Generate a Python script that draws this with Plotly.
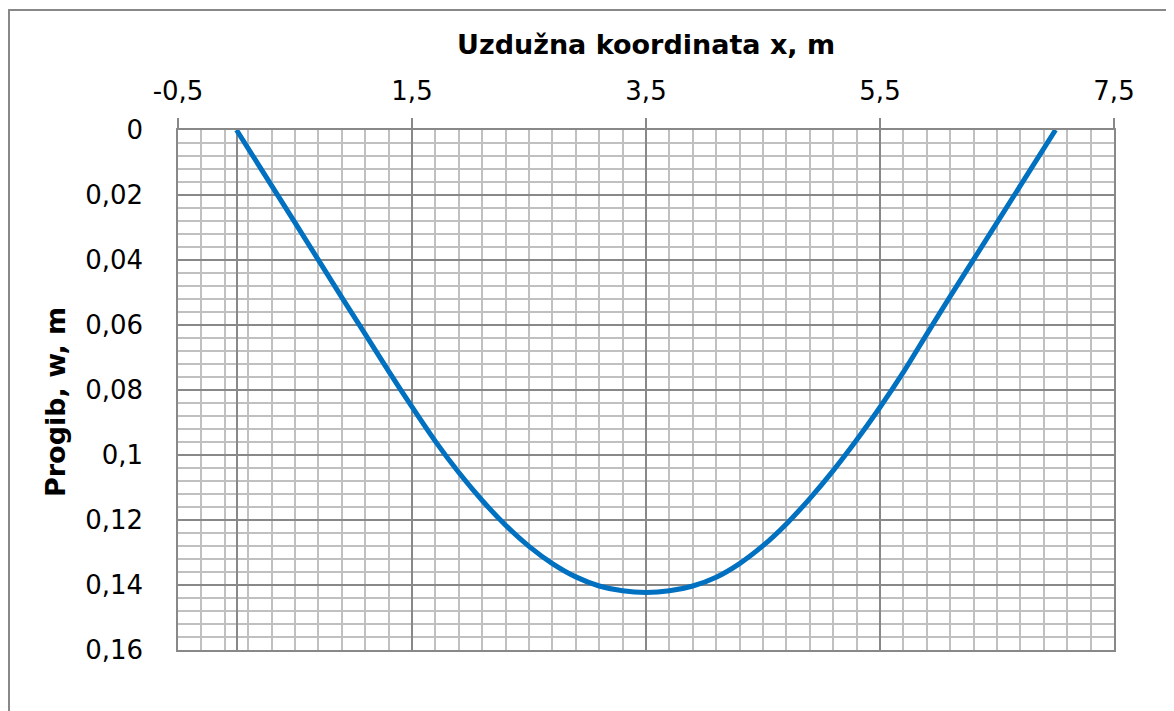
import plotly.graph_objects as go

# Data
X_VALUES = [0.0, 0.5, 0.9, 1.1, 1.3, 1.5, 1.7, 1.9, 2.1, 2.3, 2.5, 2.7, 2.9, 3.1, 3.3, 3.5,
            3.7, 3.9, 4.1, 4.3, 4.5, 4.7, 4.9, 5.1, 5.3, 5.5, 5.7, 5.9, 6.1, 6.5, 7.0]
W_VALUES = [0.0, 0.0285, 0.0515, 0.0628, 0.0742, 0.0852, 0.0958, 0.1054, 0.1140, 0.1216,
            0.1281, 0.1334, 0.1375, 0.1403, 0.1418, 0.1423,
            0.1418, 0.1403, 0.1376, 0.1334, 0.1279, 0.1212, 0.1134, 0.1048, 0.0954, 0.0853,
            0.0745, 0.0628, 0.0512, 0.0285, 0.0]

X_TICK_VALS = [-0.5, 1.5, 3.5, 5.5, 7.5]
X_TICK_TEXT = ["-0,5", "1,5", "3,5", "5,5", "7,5"]
Y_TICK_VALS = [0, 0.02, 0.04, 0.06, 0.08, 0.10, 0.12, 0.14, 0.16]
Y_TICK_TEXT = ["0", "0,02", "0,04", "0,06", "0,08", "0,1", "0,12", "0,14", "0,16"]

X_TITLE = "Uzdužna koordinata x, m"
Y_TITLE = "Progib, w, m"

MAJOR = "#888888"
MINOR = "#c0c0c0"
FONT = "DejaVu Sans"

fig = go.Figure()
fig.add_trace(go.Scatter(
    x=X_VALUES, y=W_VALUES, mode="lines",
    line=dict(color="#0070C0", width=5, shape="spline", smoothing=0.6),
    showlegend=False,
))

# page has an 8px body margin; figure origin is at (8, 8) on the page
OFF = 8
W, H = 1174 - OFF, 711 - OFF
L, R, T, B = 178 - OFF, 1114 - OFF, 130 - OFF, 650 - OFF
pw, ph = R - L, B - T

fig.update_layout(
    width=W, height=H,
    margin=dict(l=L, r=W - R, t=T, b=H - B, autoexpand=False),
    paper_bgcolor="white", plot_bgcolor="white",
    font=dict(family=FONT, color="black", size=26),
    xaxis=dict(
        side="top", range=[-0.5, 7.5],
        tickmode="array", tickvals=X_TICK_VALS, ticktext=X_TICK_TEXT,
        ticks="outside", ticklen=10, tickwidth=1.5, tickcolor=MAJOR,
        ticklabelstandoff=8,
        tickfont=dict(family=FONT, size=26),
        showgrid=True, gridcolor=MAJOR, gridwidth=1.5,
        zeroline=True, zerolinecolor=MAJOR, zerolinewidth=2,
        showline=True, linecolor=MAJOR, linewidth=1.5, mirror=True,
        minor=dict(tick0=-0.5, dtick=0.2, showgrid=True, gridcolor=MINOR, gridwidth=2, ticks=""),
    ),
    yaxis=dict(
        range=[0.16, 0],
        tickmode="array", tickvals=Y_TICK_VALS, ticktext=Y_TICK_TEXT,
        ticks="", ticklabelstandoff=28,
        tickfont=dict(family=FONT, size=26),
        showgrid=True, gridcolor=MAJOR, gridwidth=1.5,
        zeroline=True, zerolinecolor=MAJOR, zerolinewidth=1.5,
        showline=True, linecolor=MAJOR, linewidth=1.5, mirror=True,
        minor=dict(dtick=0.004, tick0=0, showgrid=True, gridcolor=MINOR, gridwidth=2, ticks=""),
    ),
    annotations=[
        dict(text="<b>%s</b>" % X_TITLE, xref="paper", yref="paper",
             x=0.5, y=(B - (45 - OFF)) / ph, xanchor="center", yanchor="middle",
             showarrow=False, font=dict(family=FONT, size=27, color="black")),
        dict(text="<b>%s</b>" % Y_TITLE, xref="paper", yref="paper",
             x=(56 - OFF - L) / pw, y=(B - (402 - OFF)) / ph, xanchor="center", yanchor="middle",
             textangle=-90, showarrow=False, font=dict(family=FONT, size=27, color="black")),
    ],
    shapes=[
        dict(type="rect", xref="paper", yref="paper",
             x0=(1 - L) / pw, x1=1.3, y0=-0.4, y1=(B - 2) / ph,
             line=dict(color=MAJOR, width=2), fillcolor="rgba(0,0,0,0)", layer="below"),
    ],
)

fig.write_html("out.html")
